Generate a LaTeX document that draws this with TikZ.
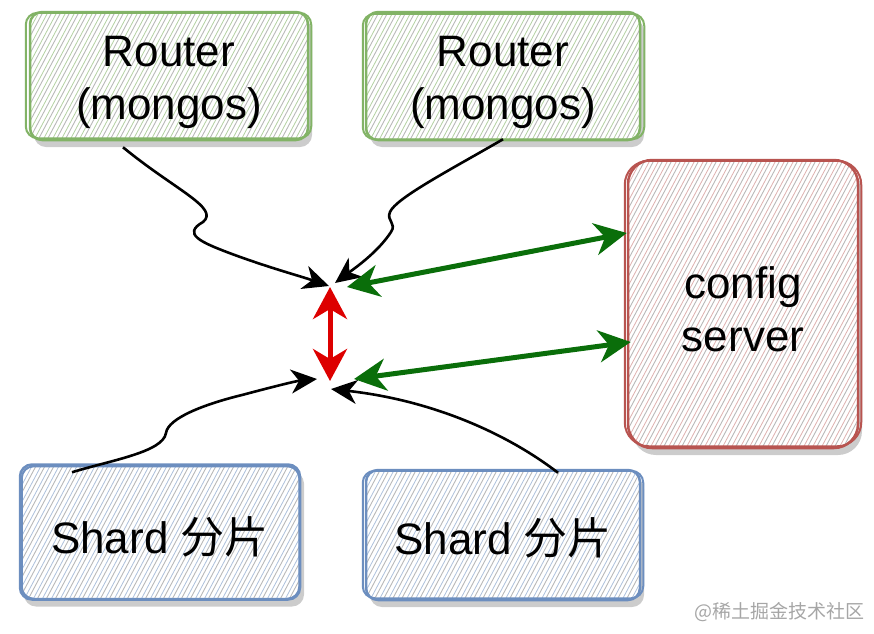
\documentclass[tikz,border=0pt]{standalone}
\usepackage{fontspec}
\setmainfont{Liberation Sans}
\newfontfamily\cjk{Noto Sans CJK SC}
\usetikzlibrary{arrows.meta,calc,shadows}
\definecolor{gborder}{HTML}{82B366}
\definecolor{bborder}{HTML}{6C8EBF}
\definecolor{rborder}{HTML}{B85450}
\definecolor{garrow}{HTML}{0A6E0A}
\definecolor{rarrow}{HTML}{DD0000}
\newcommand\boxtext[2]{\raisebox{-#1}[\height][\depth]{\begin{tabular}{@{}c@{}}#2\end{tabular}}}
\begin{document}
\begin{tikzpicture}[x=1pt,y=-1pt,
  hatch/.style={path picture={
    \foreach \k in {0,...,70}{
      \draw[gray!55, line width=0.9pt]
        ($(path picture bounding box.south west)+(\k*9pt-190pt,0pt)$) -- ++(62:360pt);
      \draw[#1, line width=0.8pt]
        ($(path picture bounding box.south west)+(\k*9pt-185pt,0pt)$) -- ++(62:360pt);
    }}},
  box/.style={rounded corners=12pt, draw=#1, line width=2.5pt, fill=white,
    align=center, font=\fontsize{44}{53}\selectfont, inner sep=0pt,
    drop shadow={shadow xshift=4pt, shadow yshift=-7pt, fill=black!20, opacity=1}},
  sketch/.style={draw=#1, line width=2pt},
  blk/.style={line width=2.6pt, -{Stealth[length=26pt,width=24pt,inset=8pt]}},
  grn/.style={draw=garrow, line width=5pt,
    {Stealth[length=32pt,width=32pt,inset=10pt]}-{Stealth[length=32pt,width=32pt,inset=10pt]}},
  red/.style={draw=rarrow, line width=5pt,
    {Stealth[length=32pt,width=34pt,inset=10pt]}-{Stealth[length=32pt,width=34pt,inset=10pt]}}
]
\useasboundingbox (0,0) rectangle (874,633);

% boxes
\node[box=gborder, hatch=gborder!60, minimum width=278pt, minimum height=128pt] (r1) at (169,76) {\boxtext{6pt}{Router\\(mongos)}};
\node[box=gborder, hatch=gborder!60, minimum width=274pt, minimum height=128pt] (r2) at (503,76) {\boxtext{6pt}{Router\\(mongos)}};
\node[box=rborder, hatch=rborder!45, rounded corners=24pt, minimum width=230pt, minimum height=288pt] (cfg) at (743,304) {\boxtext{10pt}{config\\server}};
\node[box=bborder, hatch=bborder!55, minimum width=280pt, minimum height=135pt] (s1) at (160,532) {\boxtext{11pt}{Shard {\cjk 分片}}};
\node[box=bborder, hatch=bborder!55, minimum width=274pt, minimum height=130pt] (s2) at (503,535) {\boxtext{9pt}{Shard {\cjk 分片}}};

% sketchy second strokes
\draw[sketch=gborder, rounded corners=12pt] ([shift={(-3pt,3pt)}]r1.south west) rectangle ([shift={(2pt,-2pt)}]r1.north east);
\draw[sketch=gborder, rounded corners=12pt] ([shift={(-2pt,2pt)}]r2.south west) rectangle ([shift={(3pt,-3pt)}]r2.north east);
\draw[sketch=rborder, rounded corners=24pt] ([shift={(-2pt,3pt)}]cfg.south west) rectangle ([shift={(2pt,-2pt)}]cfg.north east);
\draw[sketch=bborder, rounded corners=12pt] ([shift={(3pt,2pt)}]s1.south west) rectangle ([shift={(-2pt,-3pt)}]s1.north east);
\draw[sketch=bborder, rounded corners=12pt] ([shift={(-2pt,3pt)}]s2.south west) rectangle ([shift={(2pt,-2pt)}]s2.north east);

% meeting points
\coordinate (tA) at (329,286);
\coordinate (tB) at (335,283);
\coordinate (rTop) at (330,287);
\coordinate (rBot) at (330,381);
\coordinate (gA) at (347,287);
\coordinate (gB) at (354,379);
\coordinate (tC) at (317,379);
\coordinate (tD) at (331,389);
\coordinate (cA) at ([yshift=71pt]cfg.west);
\coordinate (cB) at ([yshift=-38pt,xshift=4pt]cfg.west);

% black connectors
\draw[blk] ([xshift=-46pt,yshift=-6pt]r1.south) .. controls (175,190) and (220,208) .. (203,222)
  .. controls (182,234) and (200,242) .. (232,254)
  .. controls (270,268) and (300,276) .. (tA);
\draw[blk] ([yshift=2pt]r2.south) .. controls (450,170) and (396,198) .. (390,212)
  .. controls (386,221) and (397,223) .. (391,232)
  .. controls (378,252) and (355,268) .. (tB);
\draw[blk] ([xshift=-88pt,yshift=-9pt]s1.north) .. controls (112,460) and (163,452) .. (166,433)
  .. controls (168,418) and (205,404) .. (242,395)
  .. controls (272,387) and (296,381) .. (tC);
\draw[blk] ([xshift=55pt,yshift=-4pt]s2.north) .. controls (505,432) and (430,400) .. (tD);

% red and green arrows
\draw[red] (rTop) -- (rBot);
\draw[grn] (gA) -- (cA);
\draw[grn] (gB) -- (cB);

% watermark
\node[font=\cjk\fontsize{19}{19}\selectfont, text=black!35, anchor=east] (wm) at (868,612) {@稀土掘金技术社区};
\end{tikzpicture}
\end{document}
